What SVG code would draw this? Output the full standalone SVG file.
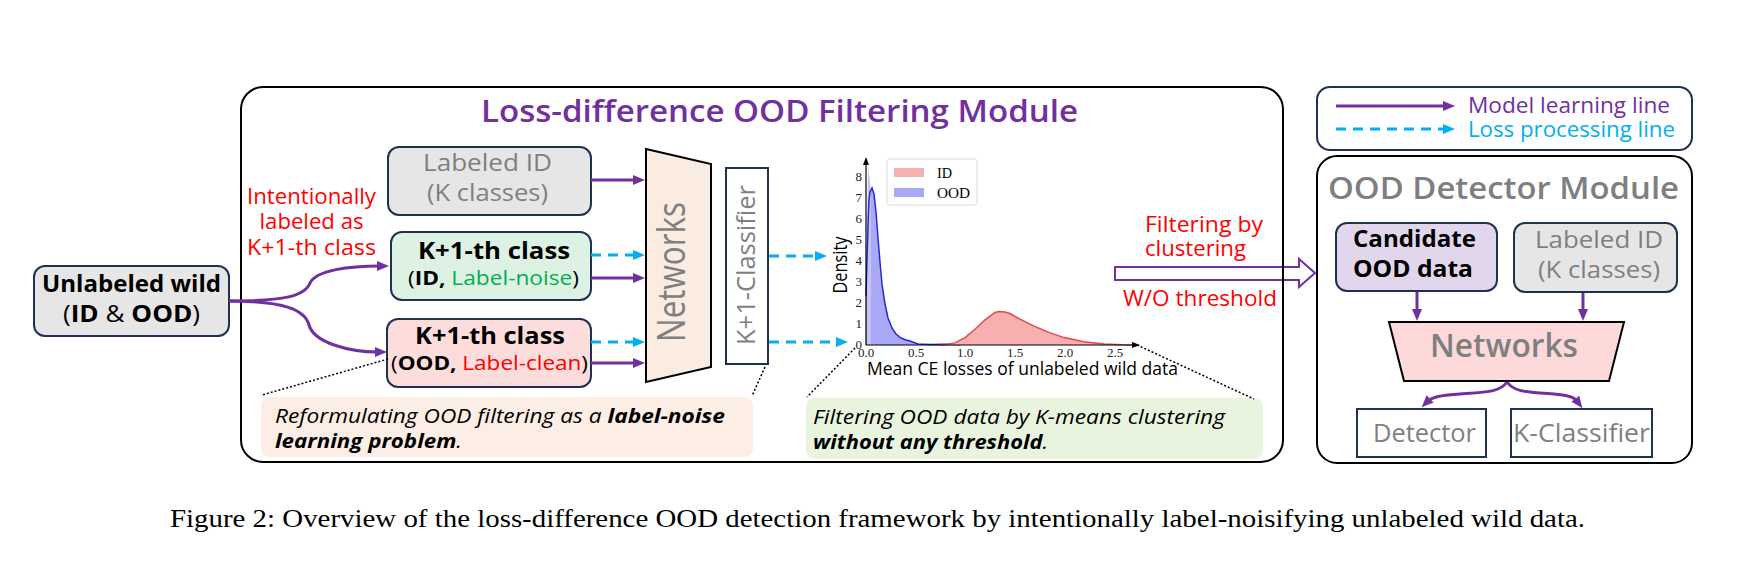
<svg xmlns="http://www.w3.org/2000/svg" width="1755" height="565" viewBox="0 0 1755 565">
<defs>
<marker id="ap" viewBox="0 0 12 10" refX="3" refY="5" markerWidth="12" markerHeight="10" markerUnits="userSpaceOnUse" orient="auto"><path d="M0,0 L12,5 L0,10 z" fill="#7030A0"/></marker>
<marker id="ac" viewBox="0 0 12 10" refX="3" refY="5" markerWidth="12" markerHeight="10" markerUnits="userSpaceOnUse" orient="auto"><path d="M0,0 L12,5 L0,10 z" fill="#00B0F0"/></marker>
<marker id="ak" viewBox="0 0 8 6" refX="2" refY="3" markerWidth="8" markerHeight="6" markerUnits="userSpaceOnUse" orient="auto"><path d="M0,0 L8,3 L0,6 z" fill="#000"/></marker>
</defs>
<style>
.t{font-family:"Open Sans","Noto Sans","Liberation Sans",sans-serif;font-weight:500}
.s{font-family:"Liberation Serif","DejaVu Serif",serif}
.box{stroke:#1F3050;stroke-width:2}
.pl{fill:none;stroke:#7030A0;stroke-width:3}
.cy{fill:none;stroke:#00B0F0;stroke-width:3;stroke-dasharray:10 7}
.g{fill:#7F7F7F}
.b{font-weight:bold}
.sb{font-weight:600}
.dot{fill:none;stroke:#000;stroke-width:1.5;stroke-dasharray:2 2}
.red{fill:#FF0000}
</style>
<rect width="1755" height="565" fill="#fff"/>

<g id="filter-arrow">
<polygon points="1115,267 1299,267 1299,259 1315,273 1299,287 1299,280 1115,280" fill="none" stroke="#7030A0" stroke-width="2"/>
</g>

<g id="main-frame">
<rect x="241" y="87" width="1042" height="375" rx="22" fill="none" stroke="#000" stroke-width="2"/>
<text class="t sb" x="481" y="122" font-size="30" fill="#7030A0" textLength="597" lengthAdjust="spacingAndGlyphs">Loss-difference OOD Filtering Module</text>
</g>

<g id="unlabeled-wild">
<rect class="box" x="34" y="266" width="195" height="70" rx="11" fill="#E7E6E6"/>
<text class="t b" x="42" y="292" font-size="24" textLength="179" lengthAdjust="spacingAndGlyphs">Unlabeled wild</text>
<text class="t" x="63" y="322" font-size="24" textLength="137" lengthAdjust="spacingAndGlyphs">(<tspan class="b">ID</tspan> &amp; <tspan class="b">OOD</tspan>)</text>
</g>

<g id="intent-label">
<text class="t red" x="311.5" y="204" font-size="21.5" text-anchor="middle" textLength="129" lengthAdjust="spacingAndGlyphs">Intentionally</text>
<text class="t red" x="311.5" y="229" font-size="21.5" text-anchor="middle" textLength="104" lengthAdjust="spacingAndGlyphs">labeled as</text>
<text class="t red" x="311.5" y="255" font-size="21.5" text-anchor="middle" textLength="129" lengthAdjust="spacingAndGlyphs">K+1-th class</text>
</g>

<g id="labeled-id-left">
<rect class="box" x="388" y="147" width="203" height="68" rx="11" fill="#E7E6E6"/>
<text class="t g" x="423" y="171" font-size="24" textLength="129" lengthAdjust="spacingAndGlyphs">Labeled ID</text>
<text class="t g" x="427" y="201" font-size="24" textLength="121" lengthAdjust="spacingAndGlyphs">(K classes)</text>
</g>

<g id="k1-id">
<rect class="box" x="391" y="232" width="200" height="68" rx="11" fill="#DDF2E3"/>
<text class="t b" x="418" y="259" font-size="23" textLength="152" lengthAdjust="spacingAndGlyphs">K+1-th class</text>
<text class="t" x="408" y="285" font-size="20" textLength="171" lengthAdjust="spacingAndGlyphs">(<tspan class="b">ID,</tspan> <tspan fill="#00B050">Label-noise</tspan>)</text>
</g>

<g id="k1-ood">
<rect class="box" x="387" y="319" width="204" height="68" rx="11" fill="#FDDCDC"/>
<text class="t b" x="415" y="344" font-size="23" textLength="150" lengthAdjust="spacingAndGlyphs">K+1-th class</text>
<text class="t" x="391" y="370" font-size="20" textLength="197" lengthAdjust="spacingAndGlyphs">(<tspan class="b">OOD,</tspan> <tspan fill="#FF0000">Label-clean</tspan>)</text>
</g>

<g id="networks-left">
<polygon points="646,149 711,164 711,367 646,382" fill="#FBECE2" stroke="#000" stroke-width="2"/>
<text class="t g" transform="translate(685,272) rotate(-90)" text-anchor="middle" font-size="38" textLength="140" lengthAdjust="spacingAndGlyphs">Networks</text>
</g>

<g id="k1-classifier">
<rect x="726" y="168" width="42" height="196" fill="#fff" stroke="#1F3050" stroke-width="2"/>
<text class="t g" transform="translate(755,265) rotate(-90)" text-anchor="middle" font-size="25" textLength="160" lengthAdjust="spacingAndGlyphs">K+1-Classifier</text>
</g>

<g id="density-plot">
<polygon points="866,345 866,296 867,260 868,225 869,200 870,192 872,188 874,194 876,212 878,238 880,262 882,284 885,304 888,318 892,328 896,334 901,338 906,340 910,341 914,342.5 918,344 930,344.5 945,344.3 960,344.8 960,345" fill="#A9A9F5"/>
<polygon points="867,345 867,230 868,166 869,175 870,180 871,200 871,345" fill="#C4C4F8"/>
<polyline points="866,296 867,260 868,225 869,200 870,192 872,188 874,194 876,212 878,238 880,262 882,284 885,304 888,318 892,328 896,334 901,338 906,340 910,341 914,342.5 918,344 930,344.5 945,344.3 960,344.8" fill="none" stroke="#2828D8" stroke-width="1.5"/>
<polygon points="940,345 945,344.6 955,342.9 965,337.6 975,329.2 985,319.8 995,312.4 999,311.4 1005,312 1010,313.5 1019,318.7 1034,326.1 1049,332.4 1064,337.6 1084,341.8 1104,343.9 1123,344.8 1135,345" fill="#F7AFAF"/>
<polyline points="940,345 945,344.6 955,342.9 965,337.6 975,329.2 985,319.8 995,312.4 999,311.4 1005,312 1010,313.5 1019,318.7 1034,326.1 1049,332.4 1064,337.6 1084,341.8 1104,343.9 1123,344.8 1135,345" fill="none" stroke="#E8474A" stroke-width="1.5"/>
<line x1="866" y1="345" x2="866" y2="163" stroke="#000" stroke-width="1.2" marker-end="url(#ak)"/>
<line x1="866" y1="345" x2="1134" y2="345" stroke="#000" stroke-width="1.2" marker-end="url(#ak)"/>
<g class="s" font-size="13" fill="#222" text-anchor="end">
<text x="862" y="181">8</text><text x="862" y="202">7</text><text x="862" y="223">6</text><text x="862" y="244">5</text><text x="862" y="265">4</text><text x="862" y="286">3</text><text x="862" y="307">2</text><text x="862" y="328">1</text><text x="862" y="349">0</text>
</g>
<g class="s" font-size="13" fill="#222" text-anchor="middle">
<text x="866" y="357">0.0</text><text x="916" y="357">0.5</text><text x="965" y="357">1.0</text><text x="1015" y="357">1.5</text><text x="1065" y="357">2.0</text><text x="1115" y="357">2.5</text>
</g>
<rect x="887" y="159" width="90" height="46" rx="3" fill="#fff" stroke="#DDD" stroke-width="1"/>
<rect x="894" y="168" width="30" height="9" fill="#F7AFAF"/>
<rect x="894" y="188" width="30" height="9" fill="#A9A9F5"/>
<text class="s" x="937" y="178" font-size="15" textLength="15" lengthAdjust="spacingAndGlyphs">ID</text>
<text class="s" x="937" y="198" font-size="15" textLength="33" lengthAdjust="spacingAndGlyphs">OOD</text>
<text class="t" transform="translate(847,265) rotate(-90)" text-anchor="middle" font-size="20" textLength="57" lengthAdjust="spacingAndGlyphs">Density</text>
<text class="t" x="867" y="375" font-size="18" textLength="311" lengthAdjust="spacingAndGlyphs">Mean CE losses of unlabeled wild data</text>
</g>

<g id="filter-label">
<text class="t red" x="1145" y="232" font-size="22" textLength="118" lengthAdjust="spacingAndGlyphs">Filtering by</text>
<text class="t red" x="1145" y="256" font-size="22" textLength="101" lengthAdjust="spacingAndGlyphs">clustering</text>
<text class="t red" x="1123" y="306" font-size="22" textLength="154" lengthAdjust="spacingAndGlyphs">W/O threshold</text>
</g>

<g id="note-left">
<rect x="261" y="397" width="492" height="60" rx="9" fill="#FCEDE5"/>
<text class="t" x="275" y="423" font-size="20" font-style="italic" font-weight="400" textLength="450" lengthAdjust="spacingAndGlyphs">Reformulating OOD filtering as a <tspan class="b">label-noise</tspan></text>
<text class="t" x="275" y="448" font-size="20" font-style="italic" textLength="187" lengthAdjust="spacingAndGlyphs"><tspan class="b">learning problem</tspan>.</text>
</g>

<g id="note-right">
<rect x="806" y="398" width="457" height="61" rx="9" fill="#E9F4DF"/>
<text class="t" x="813" y="424" font-size="20" font-style="italic" font-weight="400" textLength="412" lengthAdjust="spacingAndGlyphs">Filtering OOD data by K-means clustering</text>
<text class="t" x="813" y="449" font-size="20" font-style="italic" textLength="235" lengthAdjust="spacingAndGlyphs"><tspan class="b">without any threshold</tspan>.</text>
</g>

<g id="legend">
<rect class="box" x="1317" y="87" width="375" height="63" rx="13" fill="#fff"/>
<line x1="1336" y1="106" x2="1446" y2="106" class="pl" marker-end="url(#ap)"/>
<line x1="1336" y1="129" x2="1446" y2="129" class="cy" stroke-dasharray="15 12" marker-end="url(#ac)"/>
<text class="t" x="1468" y="113" font-size="21" fill="#7030A0" textLength="202" lengthAdjust="spacingAndGlyphs">Model learning line</text>
<text class="t" x="1468" y="137" font-size="21" fill="#00B0F0" textLength="207" lengthAdjust="spacingAndGlyphs">Loss processing line</text>
</g>

<g id="ood-detector-module">
<rect x="1317" y="156" width="375" height="307" rx="20" fill="none" stroke="#000" stroke-width="2"/>
<text class="t g sb" x="1328" y="199" font-size="30" textLength="351" lengthAdjust="spacingAndGlyphs">OOD Detector Module</text>
</g>

<g id="candidate-ood">
<rect class="box" x="1336" y="223" width="161" height="68" rx="11" fill="#E2D6EC"/>
<text class="t b" x="1353" y="247" font-size="23" textLength="123" lengthAdjust="spacingAndGlyphs">Candidate</text>
<text class="t b" x="1353" y="277" font-size="23" textLength="120" lengthAdjust="spacingAndGlyphs">OOD data</text>
</g>

<g id="labeled-id-right">
<rect class="box" x="1514" y="223" width="163" height="69" rx="11" fill="#E7E6E6"/>
<text class="t g" x="1535" y="248" font-size="24" textLength="128" lengthAdjust="spacingAndGlyphs">Labeled ID</text>
<text class="t g" x="1538" y="278" font-size="24" textLength="122" lengthAdjust="spacingAndGlyphs">(K classes)</text>
</g>

<g id="networks-right">
<polygon points="1389,322 1624,322 1609,381 1404,381" fill="#FDD9D9" stroke="#000" stroke-width="2"/>
<text class="t g sb" x="1430" y="357" font-size="33" textLength="148" lengthAdjust="spacingAndGlyphs">Networks</text>
</g>

<g id="detector">
<rect x="1357" y="409" width="129" height="48" fill="#fff" stroke="#1F3050" stroke-width="2"/>
<text class="t g" x="1373" y="442" font-size="25" textLength="103" lengthAdjust="spacingAndGlyphs">Detector</text>
</g>

<g id="k-classifier">
<rect x="1511" y="409" width="141" height="48" fill="#fff" stroke="#1F3050" stroke-width="2"/>
<text class="t g" x="1513" y="442" font-size="25" textLength="137" lengthAdjust="spacingAndGlyphs">K-Classifier</text>
</g>

<g id="connectors">
<path class="pl" d="M229,301 C285,301 305,296 310,283 C316,270 350,266 380,266" marker-end="url(#ap)"/>
<path class="pl" d="M229,301 C285,301 305,310 309,325 C314,343 350,352 378,352" marker-end="url(#ap)"/>
<line class="pl" x1="591" y1="180" x2="636" y2="180" marker-end="url(#ap)"/>
<line class="cy" x1="591" y1="255" x2="636" y2="255" marker-end="url(#ac)"/>
<line class="pl" x1="591" y1="278" x2="636" y2="278" marker-end="url(#ap)"/>
<line class="cy" x1="591" y1="342" x2="636" y2="342" marker-end="url(#ac)"/>
<line class="pl" x1="591" y1="363" x2="636" y2="363" marker-end="url(#ap)"/>
<line class="cy" x1="769" y1="256" x2="818" y2="256" marker-end="url(#ac)"/>
<line class="cy" x1="769" y1="342" x2="839" y2="342" marker-end="url(#ac)"/>
<line class="pl" x1="1417" y1="292" x2="1417" y2="312" marker-end="url(#ap)"/>
<line class="pl" x1="1583" y1="293" x2="1583" y2="312" marker-end="url(#ap)"/>
<path class="pl" d="M1507,382 C1500,392 1488,392 1460,394 C1442,395 1432,397 1428,401" marker-end="url(#ap)"/>
<path class="pl" d="M1507,382 C1514,392 1526,392 1554,394 C1568,395 1574,397 1577,401" marker-end="url(#ap)"/>
<line class="dot" x1="388" y1="359" x2="262" y2="395"/>
<line class="dot" x1="765" y1="367" x2="752" y2="396"/>
<line class="dot" x1="855" y1="348" x2="807" y2="397"/>
<line class="dot" x1="1137" y1="345" x2="1254" y2="399"/>
</g>

<g id="caption">
<text class="s" x="170" y="527" font-size="25" textLength="1415" lengthAdjust="spacingAndGlyphs">Figure 2: Overview of the loss-difference OOD detection framework by intentionally label-noisifying unlabeled wild data.</text>
</g>
</svg>
